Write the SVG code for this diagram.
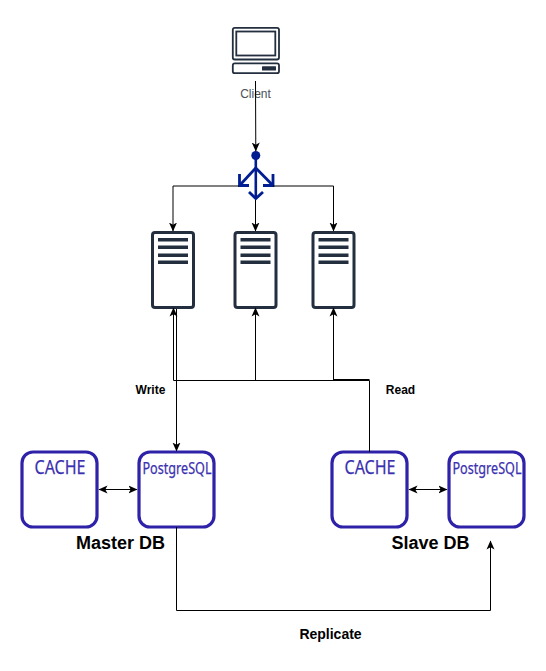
<svg xmlns="http://www.w3.org/2000/svg" width="546" height="671" viewBox="0 0 546 671">
<defs>
<marker id="ah" markerUnits="userSpaceOnUse" markerWidth="10" markerHeight="10" refX="8.5" refY="4.5" orient="auto-start-reverse" viewBox="0 0 10 9">
<path d="M0 0.5L9 4.5L0 8.5L2.2 4.5Z" fill="#000"/>
</marker>
<g id="server">
<rect x="1.5" y="1.5" width="41" height="75" rx="2.500" fill="#fff" stroke="#232f3e" stroke-width="3"/>
<rect x="7" y="7" width="30" height="3.500" fill="#232f3e"/>
<rect x="7" y="14.500" width="30" height="3.500" fill="#232f3e"/>
<rect x="7" y="22.500" width="30" height="3.500" fill="#232f3e"/>
<rect x="7" y="29.500" width="30" height="3.500" fill="#232f3e"/>
</g>
</defs>
<style>
.c{fill:none;stroke:#000;stroke-width:1}
.a{marker-end:url(#ah)}
.b{marker-start:url(#ah);marker-end:url(#ah)}
.box{fill:#fff;stroke:#2e22a8;stroke-width:3.200}
.lbl{font-family:"Liberation Sans",Arial,sans-serif;font-weight:bold;fill:#000}
.db{font-family:"Noto Sans","Open Sans",sans-serif;fill:#3a30b0;stroke:#3a30b0;stroke-width:0.250}
</style>
<rect width="546" height="671" fill="#fff"/>
<g id="client">
<rect x="232.800" y="27.800" width="46.200" height="31.700" rx="2" fill="#fff" stroke="#232f3e" stroke-width="1.800"/>
<rect x="236.300" y="31.500" width="39" height="24" fill="#fff" stroke="#232f3e" stroke-width="1.800"/>
<rect x="232.800" y="63.300" width="46.200" height="9.900" rx="2" fill="#fff" stroke="#232f3e" stroke-width="1.800"/>
<rect x="262" y="66.200" width="14" height="4.200" rx="0.500" fill="#232f3e"/>
<text x="255.500" y="98" text-anchor="middle" font-family="Liberation Sans,Arial,sans-serif" font-size="12" fill="#4a4f58">Client</text>
</g>
<g id="balancer" fill="none" stroke="#001d92" stroke-width="2.800">
<circle cx="255.800" cy="155.500" r="4.500" fill="#001d92" stroke="none"/>
<path d="M255.800 158V198" stroke-width="2.600"/>
<path d="M255.800 168L240 185"/>
<path d="M255.800 168L272.500 185"/>
<path d="M239.500 174V185.500H249"/>
<path d="M273 174V185.500H263"/>
<path d="M249 192L255.800 198.500L263 192"/>
</g>
<g id="server1"><use href="#server" x="151" y="231"/></g>
<g id="server2"><use href="#server" x="233.500" y="231"/></g>
<g id="server3"><use href="#server" x="311.500" y="231"/></g>
<g id="cache1"><rect class="box" x="22" y="452" width="75" height="75" rx="11"/><text class="db" x="60" y="474" text-anchor="middle" font-size="20.500" textLength="51" lengthAdjust="spacingAndGlyphs">CACHE</text></g>
<g id="postgres1"><rect class="box" x="139" y="452" width="75" height="75" rx="11"/><text class="db" x="177" y="474" text-anchor="middle" font-size="16" textLength="69" lengthAdjust="spacingAndGlyphs">PostgreSQL</text></g>
<g id="cache2"><rect class="box" x="332" y="452" width="75" height="75" rx="11"/><text class="db" x="370" y="474" text-anchor="middle" font-size="20.500" textLength="51" lengthAdjust="spacingAndGlyphs">CACHE</text></g>
<g id="postgres2"><rect class="box" x="449" y="452" width="75" height="75" rx="11"/><text class="db" x="487" y="474" text-anchor="middle" font-size="16" textLength="69" lengthAdjust="spacingAndGlyphs">PostgreSQL</text></g>
<g id="connectors">
<path class="c a" d="M255.500 81L255.800 151"/>
<path class="c a" d="M239 186H173V231"/>
<path class="c a" d="M255.500 200V231"/>
<path class="c a" d="M273 186H333.500V231"/>
<path class="c a" d="M173.500 380.500V308"/>
<path class="c a" d="M255.500 380.500V308"/>
<path class="c a" d="M333.500 380.500V308"/>
<path class="c" d="M173.500 380.500H369.500V452"/>
<path class="c" d="M333.500 379.500H369.500"/>
<path class="c a" d="M176.500 309V451"/>
<path class="c b" d="M99 489.500H137"/>
<path class="c b" d="M409 489.500H447"/>
<path class="c a" d="M176.500 527V610.500H490.500V541"/>
</g>
<g id="labels">
<text class="lbl" x="150.500" y="394" text-anchor="middle" font-size="12">Write</text>
<text class="lbl" x="400.500" y="394" text-anchor="middle" font-size="12">Read</text>
<text class="lbl" x="120.500" y="549" text-anchor="middle" font-size="18">Master DB</text>
<text class="lbl" x="430.500" y="549" text-anchor="middle" font-size="18">Slave DB</text>
<text class="lbl" x="330.500" y="639" text-anchor="middle" font-size="14">Replicate</text>
</g>
</svg>
